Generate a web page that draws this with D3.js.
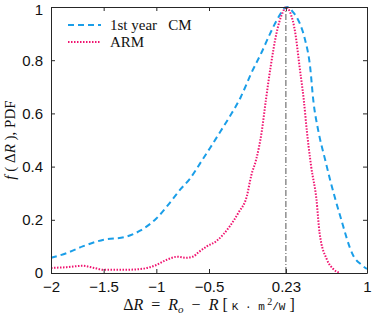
<!DOCTYPE html>
<html>
<head>
<meta charset="utf-8">
<script src="https://cdn.jsdelivr.net/npm/d3@7"></script>
<style>
  body { margin: 0; background: #fff; }
  svg { display: block; }
</style>
</head>
<body>
<svg id="chart"></svg>
<script>
// ΔR values and PDFs
const cmX = [-2, -1.85, -1.7, -1.5, -1.3, -1.15, -1.0, -0.87, -0.77, -0.68, -0.58, -0.49, -0.39, -0.3, -0.2, -0.1, 0.0, 0.08, 0.15, 0.24, 0.3, 0.36, 0.41, 0.46, 0.49, 0.54, 0.6, 0.65, 0.745, 0.87, 0.95, 1.0];
const cmY = [0.057, 0.075, 0.1, 0.125, 0.135, 0.16, 0.205, 0.265, 0.315, 0.355, 0.415, 0.47, 0.533, 0.59, 0.66, 0.75, 0.83, 0.9, 0.955, 1.0, 0.98, 0.94, 0.88, 0.775, 0.65, 0.53, 0.43, 0.35, 0.215, 0.065, 0.03, 0.015];

const armX = [-2, -1.85, -1.7, -1.6, -1.5, -1.3, -1.15, -1.0, -0.9, -0.8, -0.72, -0.65, -0.6, -0.52, -0.43, -0.3, -0.22, -0.14, -0.1, -0.05, 0.0, 0.04, 0.085, 0.14, 0.2, 0.23, 0.27, 0.32, 0.36, 0.40, 0.43, 0.46, 0.47, 0.52, 0.55, 0.62, 0.68, 0.74];
const armY = [0.019, 0.022, 0.027, 0.02, 0.012, 0.012, 0.015, 0.03, 0.05, 0.061, 0.057, 0.062, 0.078, 0.10, 0.12, 0.177, 0.227, 0.29, 0.365, 0.43, 0.53, 0.65, 0.775, 0.9, 0.98, 1.0, 0.98, 0.9, 0.775, 0.65, 0.53, 0.43, 0.40, 0.277, 0.15, 0.05, 0.015, 0.0];

const xTicks = [-2, -1.5, -1, -0.5, 0.23, 1];
const yTicks = [0, 0.2, 0.4, 0.6, 0.8, 1];
const peakX = 0.23;

const width = 374, height = 316;
const margin = { top: 7, right: 7, bottom: 43, left: 51 };
const innerW = width - margin.left - margin.right;
const innerH = height - margin.top - margin.bottom;

const svg = d3.select('#chart').attr('width', width).attr('height', height);
const g = svg.append('g').attr('transform', `translate(${margin.left},${margin.top})`);

const x = d3.scaleLinear().domain([-2, 1]).range([0, innerW]);
const y = d3.scaleLinear().domain([0, 1]).range([innerH, 0]);

const axisColor = '#262626';
const tickFont = '15px "Liberation Sans", Arial, sans-serif';

// curves
const line = d3.line().x(d => x(d[0])).y(d => y(d[1])).curve(d3.curveMonotoneX);

g.append('path')
  .datum(cmX.map((v, i) => [v, cmY[i]]))
  .attr('d', line)
  .attr('fill', 'none')
  .attr('stroke', '#1a9ee8')
  .attr('stroke-width', 2)
  .attr('stroke-dasharray', '6,4');

g.append('path')
  .datum(armX.map((v, i) => [v, armY[i]]))
  .attr('d', line)
  .attr('fill', 'none')
  .attr('stroke', '#f01470')
  .attr('stroke-width', 2)
  .attr('stroke-dasharray', '1.5,1.5');

// peak marker
g.append('line')
  .attr('x1', x(peakX)).attr('x2', x(peakX))
  .attr('y1', y(0)).attr('y2', y(1))
  .attr('stroke', '#555')
  .attr('stroke-width', 1)
  .attr('stroke-dasharray', '6,2,1,2');

// axes (ticks inside, mirrored)
const styleAxis = sel => {
  sel.select('.domain').attr('stroke', axisColor);
  sel.selectAll('.tick line').attr('stroke', axisColor);
  sel.selectAll('.tick text').style('font', tickFont).attr('fill', '#111');
};

g.append('g')
  .attr('transform', `translate(0,${innerH})`)
  .call(d3.axisBottom(x).tickValues(xTicks).tickFormat(d3.format('')).tickSizeInner(-4).tickSizeOuter(0).tickPadding(8))
  .call(styleAxis);

g.append('g')
  .call(d3.axisTop(x).tickValues(xTicks).tickFormat('').tickSizeInner(-4).tickSizeOuter(0))
  .call(styleAxis);

const yAxisG = g.append('g')
  .call(d3.axisLeft(y).tickValues(yTicks).tickFormat(d3.format('')).tickSizeInner(-4).tickSizeOuter(0).tickPadding(8))
  .call(styleAxis);
// keep the top label inside the picture
yAxisG.selectAll('.tick text').filter(d => d === 1).attr('dy', '0.5em');

g.append('g')
  .attr('transform', `translate(${innerW},0)`)
  .call(d3.axisRight(y).tickValues(yTicks).tickFormat('').tickSizeInner(-4).tickSizeOuter(0))
  .call(styleAxis);

// legend
const legend = g.append('g').attr('transform', 'translate(17,18)');
const legendItems = [
  { name: '1st year\u00a0\u00a0\u00a0CM', color: '#1a9ee8', dash: '6,4' },
  { name: 'ARM', color: '#f01470', dash: '1.5,1.5' }
];
legendItems.forEach((d, i) => {
  const row = legend.append('g').attr('transform', `translate(0,${i * 17})`);
  row.append('line')
    .attr('x1', 0).attr('x2', 33)
    .attr('stroke', d.color).attr('stroke-width', 2)
    .attr('stroke-dasharray', d.dash);
  row.append('text')
    .attr('x', 42).attr('y', 5)
    .style('font', '15px "Liberation Serif", "Times New Roman", serif')
    .attr('fill', '#111')
    .text(d.name);
});

// axis labels
const serif = '"Liberation Serif", "Times New Roman", serif';
const xl = svg.append('text')
  .attr('x', margin.left + innerW / 2)
  .attr('y', 310)
  .attr('text-anchor', 'middle')
  .style('font-family', serif)
  .style('font-size', '16px')
  .attr('fill', '#111');
xl.append('tspan').text('\u0394');
xl.append('tspan').style('font-style', 'italic').text('R');
xl.append('tspan').text('\u00a0\u00a0=\u00a0\u00a0');
xl.append('tspan').style('font-style', 'italic').text('R');
xl.append('tspan').style('font-style', 'italic').style('font-size', '11px').attr('dy', 3).text('o');
xl.append('tspan').attr('dy', -3).text('\u00a0\u00a0\u2212\u00a0\u00a0');
xl.append('tspan').style('font-style', 'italic').text('R');
xl.append('tspan').text(' [\u00a0');
xl.append('tspan').style('font-family', '"Liberation Mono", monospace').style('font-size', '11px').text('K\u00a0\u00b7\u00a0m');
xl.append('tspan').style('font-size', '10px').attr('dy', -5).text('\u00a02');
xl.append('tspan').attr('dy', 5).style('font-family', '"Liberation Mono", monospace').style('font-size', '11px').text('/W');
xl.append('tspan').text('\u00a0]');

const yl = svg.append('text')
  .attr('transform', `translate(15,${margin.top + innerH / 2}) rotate(-90)`)
  .attr('text-anchor', 'middle')
  .style('font-family', serif)
  .style('font-size', '15px')
  .attr('fill', '#111');
yl.append('tspan').style('font-style', 'italic').text('f');
yl.append('tspan').text('\u00a0(\u00a0\u0394');
yl.append('tspan').style('font-style', 'italic').text('R');
yl.append('tspan').text('\u00a0), PDF');
</script>
</body>
</html>
